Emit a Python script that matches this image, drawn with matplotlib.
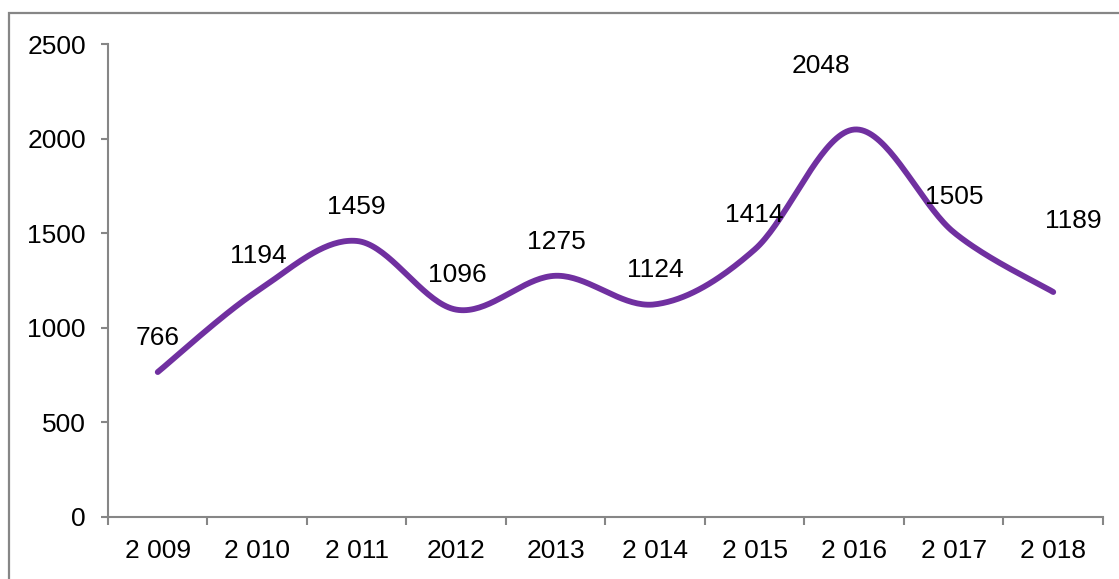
import numpy as np
import matplotlib.pyplot as plt
from matplotlib.patches import Rectangle

plt.rcParams['font.family'] = ['Liberation Sans', 'DejaVu Sans']

years = ["2\u00a0009", "2\u00a0010", "2\u00a0011", "2012", "2013",
         "2\u00a0014", "2\u00a0015", "2\u00a0016", "2\u00a0017", "2\u00a0018"]
values = [766, 1194, 1459, 1096, 1275, 1124, 1414, 2048, 1505, 1189]

# label nudges in pixels (dx, dy above the point)
label_offsets = [(0, 34), (1, 35), (0, 34), (1, 35), (1, 34),
                 (0, 34), (0, 34), (-33, 64), (1, 35), (20, 71)]

grey = "#868686"
purple = "#7030A0"
fs = 19


def smooth(x, y, n=40):
    # Bezier segments with Catmull-Rom style control points
    px = np.concatenate([[x[0]], x, [x[-1]]])
    py = np.concatenate([[y[0]], y, [y[-1]]])
    xs, ys = [], []
    t = np.linspace(0, 1, n)
    for i in range(1, len(px) - 2):
        p0 = np.array([px[i], py[i]])
        p3 = np.array([px[i + 1], py[i + 1]])
        p1 = p0 + (np.array([px[i + 1], py[i + 1]]) - np.array([px[i - 1], py[i - 1]])) / 6
        p2 = p3 - (np.array([px[i + 2], py[i + 2]]) - np.array([px[i], py[i]])) / 6
        b = ((1 - t) ** 3)[:, None] * p0 + (3 * (1 - t) ** 2 * t)[:, None] * p1 \
            + (3 * (1 - t) * t ** 2)[:, None] * p2 + (t ** 3)[:, None] * p3
        xs.append(b[:, 0])
        ys.append(b[:, 1])
    return np.concatenate(xs), np.concatenate(ys)


fig = plt.figure(figsize=(11.19, 5.79), dpi=100)
ax = fig.add_axes([0.0965, 0.1071, 0.8892, 0.8169])

x = np.arange(len(values)) + 0.5
sx, sy = smooth(x, np.array(values, dtype=float))
ax.plot(sx, sy, color=purple, linewidth=4.2, solid_capstyle="round")

for xi, v, (dx, dy) in zip(x, values, label_offsets):
    ax.annotate(str(v), (xi, v), xytext=(dx, dy), textcoords="offset pixels",
                ha="center", va="center", fontsize=fs, color="black")

ax.set_xlim(0, len(values))
ax.set_ylim(0, 2500)
ax.set_yticks(range(0, 2501, 500))
ax.set_xticks(np.arange(len(values) + 1))
ax.set_xticklabels([])
ax.set_xticks(x, minor=True)
ax.set_xticklabels(years, minor=True)

ax.tick_params(axis="x", which="major", length=6, width=1.5, color=grey)
ax.tick_params(axis="x", which="minor", length=0, pad=16, labelsize=fs)
ax.tick_params(axis="y", length=5, width=1.5, color=grey, pad=11, labelsize=fs)

for side in ("top", "right"):
    ax.spines[side].set_visible(False)
for side in ("left", "bottom"):
    ax.spines[side].set_color(grey)
    ax.spines[side].set_linewidth(1.5)

# outer frame, open to the right and bottom edges
fig.patches.append(Rectangle((9 / 1119, -0.05), 1.2, 1 - 13 / 579 + 0.05,
                             transform=fig.transFigure, fill=False,
                             edgecolor=grey, linewidth=1.6))

fig.savefig("out.png", dpi=100)
